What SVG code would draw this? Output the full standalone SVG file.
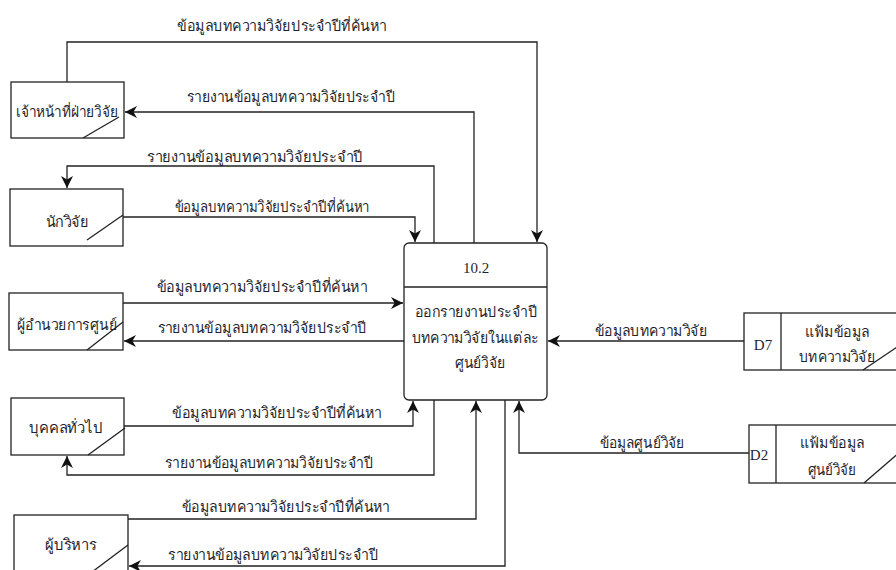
<svg xmlns="http://www.w3.org/2000/svg" width="896" height="570" viewBox="0 0 896 570">
  <style>
    .box { fill: #ffffff; stroke: #222222; stroke-width: 1.3; }
    .slash { stroke: #222222; stroke-width: 1.3; fill: none; }
    .flow { fill: none; stroke: #222222; stroke-width: 1.3; }
    .arrow { marker-end: url(#head); }
    text { font-family: "Liberation Serif", "Noto Sans", "DejaVu Sans", serif; fill: #1f1f2e; text-anchor: middle; }
    .lbl { font-size: 15px; }
    .ent { font-size: 15px; }
  </style>
  <defs>
    <marker id="head" viewBox="0 0 10 10" refX="10" refY="5" markerWidth="12" markerHeight="12" markerUnits="userSpaceOnUse" orient="auto">
      <path d="M0,0 L10,5 L0,10 L3,5 z" fill="#111111"/>
    </marker>
  </defs>
  <rect width="896" height="570" fill="#ffffff"/>

  <!-- connectors -->
  <g id="connectors">
    <!-- research staff -->
    <path class="flow arrow" d="M67,82 V42 H537 V242"/>
    <path class="flow arrow" d="M474,243 V112 H125"/>
    <!-- researcher -->
    <path class="flow arrow" d="M434,243 V166 H67 V188"/>
    <path class="flow arrow" d="M123,217 H415 V242"/>
    <!-- centre director -->
    <path class="flow arrow" d="M123,303 H403"/>
    <path class="flow arrow" d="M404,341 H124"/>
    <!-- general public -->
    <path class="flow arrow" d="M124,426 H413 V401"/>
    <path class="flow arrow" d="M434,400 V475 H67 V456"/>
    <!-- executives -->
    <path class="flow arrow" d="M128,519 H476 V401"/>
    <path class="flow arrow" d="M505,400 V566 H129"/>
    <!-- data stores -->
    <path class="flow arrow" d="M744,341 H548"/>
    <path class="flow arrow" d="M749,453 H519 V401"/>

    <text class="lbl" x="282" y="31" textLength="210" lengthAdjust="spacingAndGlyphs">ข้อมูลบทความวิจัยประจำปีที่ค้นหา</text>
    <text class="lbl" x="291" y="102" textLength="208" lengthAdjust="spacingAndGlyphs">รายงานข้อมูลบทความวิจัยประจำปี</text>
    <text class="lbl" x="255" y="162" textLength="216" lengthAdjust="spacingAndGlyphs">รายงานข้อมูลบทความวิจัยประจำปี</text>
    <text class="lbl" x="272" y="212" textLength="195" lengthAdjust="spacingAndGlyphs">ข้อมูลบทความวิจัยประจำปีที่ค้นหา</text>
    <text class="lbl" x="262" y="292" textLength="211" lengthAdjust="spacingAndGlyphs">ข้อมูลบทความวิจัยประจำปีที่ค้นหา</text>
    <text class="lbl" x="262" y="333" textLength="209" lengthAdjust="spacingAndGlyphs">รายงานข้อมูลบทความวิจัยประจำปี</text>
    <text class="lbl" x="277" y="418" textLength="210" lengthAdjust="spacingAndGlyphs">ข้อมูลบทความวิจัยประจำปีที่ค้นหา</text>
    <text class="lbl" x="269" y="468" textLength="208" lengthAdjust="spacingAndGlyphs">รายงานข้อมูลบทความวิจัยประจำปี</text>
    <text class="lbl" x="286" y="512" textLength="208" lengthAdjust="spacingAndGlyphs">ข้อมูลบทความวิจัยประจำปีที่ค้นหา</text>
    <text class="lbl" x="273" y="560" textLength="210" lengthAdjust="spacingAndGlyphs">รายงานข้อมูลบทความวิจัยประจำปี</text>
    <text class="lbl" x="651" y="336" textLength="112" lengthAdjust="spacingAndGlyphs">ข้อมูลบทความวิจัย</text>
    <text class="lbl" x="642" y="448" textLength="85" lengthAdjust="spacingAndGlyphs">ข้อมูลศูนย์วิจัย</text>
  </g>

  <!-- external entities -->
  <g id="research-staff">
    <rect class="box" x="11" y="82" width="113" height="56"/>
    <line class="slash" x1="83" y1="138" x2="119" y2="117"/>
    <text class="ent" x="67" y="117" textLength="102" lengthAdjust="spacingAndGlyphs">เจ้าหน้าที่ฝ่ายวิจัย</text>
  </g>
  <g id="researcher">
    <rect class="box" x="10" y="189" width="113" height="57"/>
    <line class="slash" x1="87" y1="240" x2="123" y2="215"/>
    <text class="ent" x="67" y="227" textLength="43" lengthAdjust="spacingAndGlyphs">นักวิจัย</text>
  </g>
  <g id="centre-director">
    <rect class="box" x="9" y="293" width="114" height="57"/>
    <line class="slash" x1="87" y1="350" x2="123" y2="322"/>
    <text class="ent" x="67" y="330" textLength="100" lengthAdjust="spacingAndGlyphs">ผู้อำนวยการศูนย์</text>
  </g>
  <g id="general-public">
    <rect class="box" x="11" y="398" width="113" height="57"/>
    <line class="slash" x1="88" y1="455" x2="125" y2="428"/>
    <text class="ent" x="66" y="433" textLength="74" lengthAdjust="spacingAndGlyphs">บุคคลทั่วไป</text>
  </g>
  <g id="executives">
    <rect class="box" x="14" y="515" width="114" height="60"/>
    <line class="slash" x1="92" y1="572" x2="128" y2="545"/>
    <text class="ent" x="71" y="550" textLength="52" lengthAdjust="spacingAndGlyphs">ผู้บริหาร</text>
  </g>

  <!-- process 10.2 -->
  <g id="process-10-2">
    <rect class="box" x="404" y="243" width="143" height="157" rx="5" ry="5"/>
    <line class="slash" x1="404" y1="287" x2="547" y2="287"/>
    <text class="ent" x="476" y="273">10.2</text>
    <text class="ent" x="476" y="317" textLength="123" lengthAdjust="spacingAndGlyphs">ออกรายงานประจำปี</text>
    <text class="ent" x="475" y="343" textLength="127" lengthAdjust="spacingAndGlyphs">บทความวิจัยในแต่ละ</text>
    <text class="ent" x="480" y="368" textLength="51" lengthAdjust="spacingAndGlyphs">ศูนย์วิจัย</text>
  </g>

  <!-- data stores -->
  <g id="store-d7">
    <rect class="box" x="744" y="313" width="160" height="57"/>
    <line class="slash" x1="781" y1="313" x2="781" y2="370"/>
    <line class="slash" x1="863" y1="370" x2="900" y2="345"/>
    <text class="ent" x="763" y="350">D7</text>
    <text class="ent" x="837" y="337" textLength="65" lengthAdjust="spacingAndGlyphs">แฟ้มข้อมูล</text>
    <text class="ent" x="837" y="362" textLength="76" lengthAdjust="spacingAndGlyphs">บทความวิจัย</text>
  </g>
  <g id="store-d2">
    <rect class="box" x="749" y="425" width="155" height="58"/>
    <line class="slash" x1="776" y1="425" x2="776" y2="483"/>
    <line class="slash" x1="864" y1="483" x2="900" y2="452"/>
    <text class="ent" x="759" y="460">D2</text>
    <text class="ent" x="832" y="448" textLength="65" lengthAdjust="spacingAndGlyphs">แฟ้มข้อมูล</text>
    <text class="ent" x="832" y="475" textLength="49" lengthAdjust="spacingAndGlyphs">ศูนย์วิจัย</text>
  </g>
</svg>
